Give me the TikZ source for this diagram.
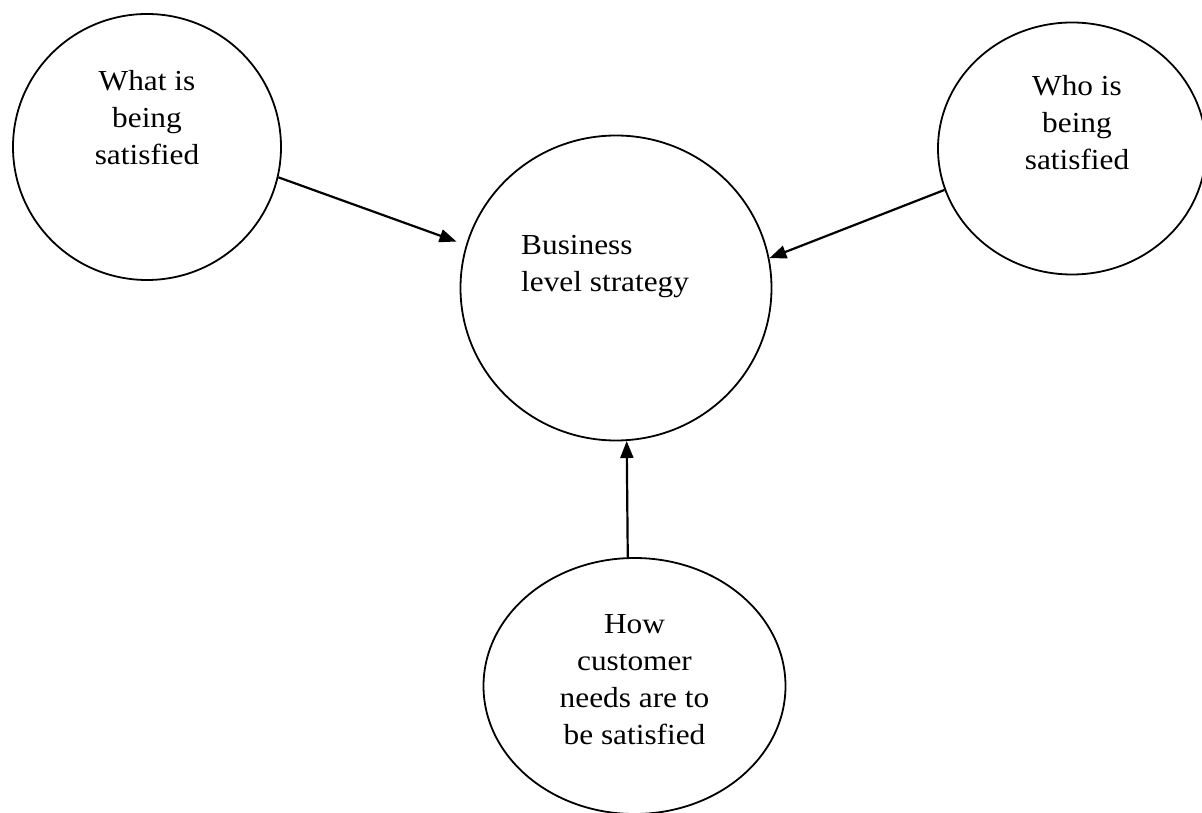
\documentclass[tikz,border=0pt]{standalone}
\usepackage{fontspec}
\setmainfont{Liberation Serif}[FakeStretch=1.08]
\usetikzlibrary{arrows.meta, shapes.geometric}
\tikzset{
    bubble/.style={draw, ellipse, line width=1.8pt, inner sep=0pt}, % the empty rings
    bubbletext/.style={font=\fontsize{29pt}{37pt}\selectfont, inner sep=0pt}, % text inside a ring
}
\tikzstyle{arrow} = [line width=2.2pt, -{Triangle[length=17pt, width=13pt]}]

\begin{document}
\begin{tikzpicture}[x=1pt, y=1pt]
        \useasboundingbox (0,0) rectangle (1202,812);

        % Rings
        \node[bubble, minimum width=268pt, minimum height=266pt] (what) at (147,665) {};
        \node[bubble, minimum width=311pt, minimum height=305pt] (biz) at (616,524) {};
        \node[bubble, minimum width=268pt, minimum height=252pt] (who) at (1072,663.5) {};
        \node[bubble, minimum width=302pt, minimum height=256pt] (how) at (634.5,126) {};

        % Texts (base = last line)
        \node[bubbletext, align=center, anchor=base] (whatText) at ([yshift=-18pt]what.center) {What is\\being\\satisfied};
        \node[bubbletext, align=left, anchor=base west] (bizText) at ([shift={(-95pt,-4pt)}]biz.center) {Business\\level strategy};
        \node[bubbletext, align=center, anchor=base] (whoText) at ([shift={(5pt,-21.5pt)}]who.center) {Who is\\being\\satisfied};
        \node[bubbletext, align=center, anchor=base] (howText) at ([yshift=-58pt]how.center) {How\\customer\\needs are to\\be satisfied};

        % Arrows
        \draw[arrow, shorten >=10pt] (what.-13) -- (biz.164);
        \draw[arrow] (who.198) -- (biz.11);
        \draw[arrow] (how.93) -- (biz.-86);
    \end{tikzpicture}
\end{document}
